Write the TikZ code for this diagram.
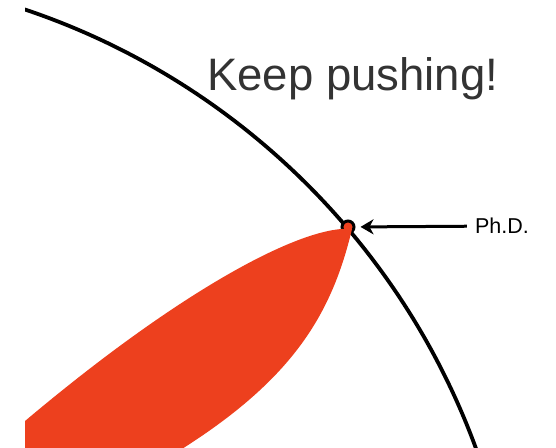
\documentclass[tikz,border=0pt]{standalone}
\usepackage{fontspec}
\setmainfont{Liberation Sans}
\usetikzlibrary{arrows.meta}
\definecolor{bladered}{RGB}{237,64,30}
\definecolor{slogangray}{RGB}{51,51,51}

\begin{document}
\begin{tikzpicture}[
  x=1pt,y=-1pt,   % one unit per pixel, y runs downward
  % The edge of human knowledge: one big circle, seen only in part.
  boundary/.style={draw=black,line width=3.8pt},
  blade/.style={fill=bladered,draw=none},
  pin/.style={circle,draw=black,fill=bladered,line width=3pt,
    minimum size=12pt,inner sep=0pt},
  pointer/.style={-{Stealth[length=13pt,width=15pt,inset=4pt]},
    line width=3pt,shorten <=8pt,shorten >=5pt},
  slogan/.style={font=\fontsize{45.5}{50}\selectfont,text=slogangray,
    inner sep=0pt,anchor=base west},
  lbl/.style={font=\fontsize{21.5}{24}\selectfont,inner sep=0pt},
]

%--- geometry ----------------------------------------------------------------
\def\frameL{25}        % left edge of the cropped view
\def\frameR{556}       % right edge of the picture
\def\frameB{447}       % bottom edge of the picture
\def\cx{-206}          % centre of the circle of knowledge
\def\cy{698}
\def\rad{726}          % its radius

\useasboundingbox (0,0) rectangle (\frameR,\frameB);

%--- the circle of knowledge -------------------------------------------------
\begin{scope}
  \clip (\frameL,0) rectangle (\frameR,\frameB);
  \draw[boundary] (\cx,\cy) circle[radius=\rad];
\end{scope}

% the dent; the bulge is painted over its lower left half
\node[pin] (tip) at (348,227) {};

%--- the specialised bulge ---------------------------------------------------
\begin{scope}
  \clip (\frameL,0) rectangle (\frameR,\frameB);
  % lower edge first, then back along the upper edge
  \fill[blade] (352,229) .. controls (328,330) and (278,400) .. (120,485)
    -- (-20,485) -- (-20,460)
    .. controls (160,300) and (300,224) .. (352,229) -- cycle;
\end{scope}

%--- the label ---------------------------------------------------------------
\node[lbl] (phd) at (502,226) {Ph.D.};
\draw[pointer] (phd) -- (tip);

\node[slogan] (motto) at (207,90) {Keep pushing!};

\end{tikzpicture}
\end{document}
